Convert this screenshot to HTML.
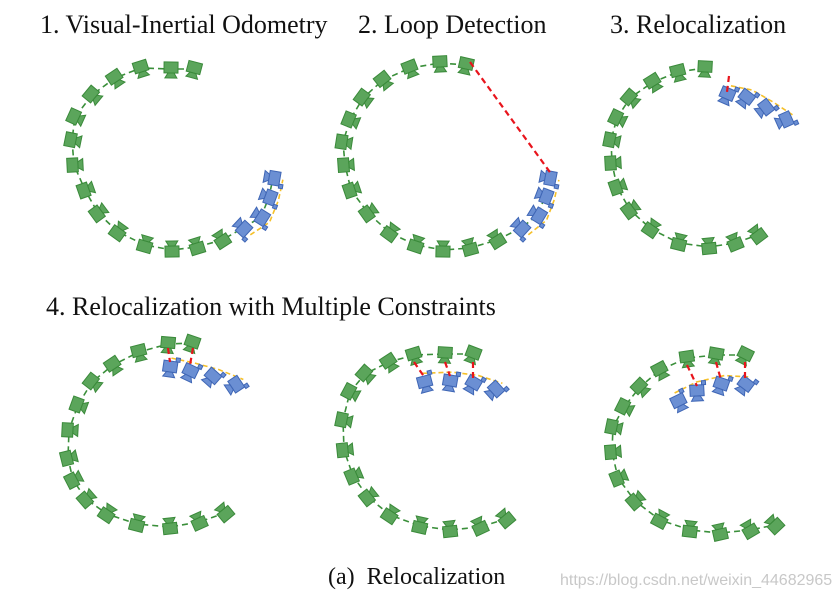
<!DOCTYPE html>
<html><head><meta charset="utf-8"><style>
body{margin:0;background:#fff;width:840px;height:601px;overflow:hidden;position:relative;font-family:"Liberation Serif",serif}
.t{position:absolute;font-size:26px;color:#111;white-space:nowrap}
</style></head><body>
<div class="t" style="left:40px;top:10px">1. Visual-Inertial Odometry</div>
<div class="t" style="left:358px;top:10px">2. Loop Detection</div>
<div class="t" style="left:610px;top:10px">3. Relocalization</div>
<div class="t" style="left:46px;top:292px">4. Relocalization with Multiple Constraints</div>
<div class="t" style="left:328px;top:564px;font-size:24px">(a)&nbsp; Relocalization</div>
<div style="position:absolute;left:560px;top:572px;font-family:'Liberation Sans',sans-serif;font-size:16px;color:#c8c8c8">https://blog.csdn.net/weixin_44682965</div>
<svg id="s" width="840" height="601" style="position:absolute;left:0;top:0"></svg>
<script>
var P=[
{j:1,c:[170,160],g:[[194,69],[171,69],[141,68],[115,78],[92,95],[75,117],[72,140],[74,165],[85,190],[98,213],[118,232],[145,245],[172,250],[197,247],[222,240]],
 b:[[243,228],[261,217],[269,197],[273,178]],r:[]},
{j:1,c:[445,158],g:[[466,65],[440,63],[410,68],[383,80],[363,98],[350,120],[343,142],[345,165],[351,190],[368,213],[390,233],[416,245],[443,250],[470,248],[497,240]],
 b:[[521,228],[538,215],[545,196],[549,178]],r:[[[470,62],[552,175]]]},
{j:0,c:[700,158],g:[[705,68],[678,72],[653,82],[630,98],[617,118],[611,140],[612,163],[617,187],[630,210],[651,229],[679,243],[709,247],[735,243],[758,235]],
 b:[[727,95],[746,98],[765,108],[785,120]],r:[[[729,76],[727,92]]]},
{j:0,c:[160,435],g:[[192,343],[168,344],[139,352],[113,365],[92,382],[78,405],[69,430],[68,458],[73,480],[86,499],[107,514],[137,524],[170,527],[199,522],[225,513]],
 b:[[170,368],[190,372],[212,377],[235,385]],r:[[[168,348],[170,362]],[[193,348],[190,365]]]},
{j:0,c:[440,440],g:[[473,354],[445,354],[414,355],[389,362],[365,374],[350,392],[343,420],[344,450],[353,476],[368,497],[390,515],[420,526],[450,530],[480,527],[506,519]],
 b:[[425,383],[450,382],[473,384],[495,390]],r:[[[414,362],[425,378]],[[445,362],[450,376]],[[473,362],[473,378]]]},
{j:0,c:[700,445],g:[[745,355],[716,355],[687,358],[660,370],[640,387],[624,407],[613,427],[612,452],[618,478],[635,501],[660,520],[690,530],[720,533],[750,530],[775,525]],
 b:[[679,402],[697,392],[721,385],[745,385]],r:[[[687,365],[697,386]],[[716,362],[721,380]],[[745,362],[745,380]]]}
];
var h='';
function cam(x,y,cx,cy,blue){
 var a=Math.atan2(cy-y,cx-x)*180/Math.PI-90;
 var f=blue?'#6b8fd3':'#5ba55b',s=blue?'#3f66b5':'#3a8a3a';
 var o='<g transform="translate('+x+','+y+') rotate('+a+')" fill="'+f+'" stroke="'+s+'" stroke-width="1">';
 o+='<rect x="-7" y="-7" width="14" height="11"/><path d="M-3 4 L3 4 L6 9 L-6 9Z"/>';
 if(blue)o+='<rect x="5" y="-11" width="4" height="4"/>';
 return o+'</g>';
}
P.forEach(function(p){
 var cx=p.c[0],cy=p.c[1];
 var pts=p.j?p.g.concat(p.b):p.g;
 h+='<polyline fill="none" stroke="#3a8f3a" stroke-width="1.6" stroke-dasharray="6 4" points="'+pts.map(function(q){return q.join(',')}).join(' ')+'"/>';
 var y=p.b.map(function(q){var dx=q[0]-cx,dy=q[1]-cy,d=Math.hypot(dx,dy);return [q[0]+dx/d*10,q[1]+dy/d*10].join(',')});
 h+='<polyline fill="none" stroke="#f5c02a" stroke-width="1.6" stroke-dasharray="5 3" points="'+y.join(' ')+'"/>';
 p.g.forEach(function(q){h+=cam(q[0],q[1],cx,cy,0)});
 p.b.forEach(function(q){h+=cam(q[0],q[1],cx,cy,1)});
 p.r.forEach(function(l){h+='<line x1="'+l[0][0]+'" y1="'+l[0][1]+'" x2="'+l[1][0]+'" y2="'+l[1][1]+'" stroke="#e8141c" stroke-width="2.2" stroke-dasharray="6 4"/>'});
});
document.getElementById('s').innerHTML=h;
</script>
</body></html>
